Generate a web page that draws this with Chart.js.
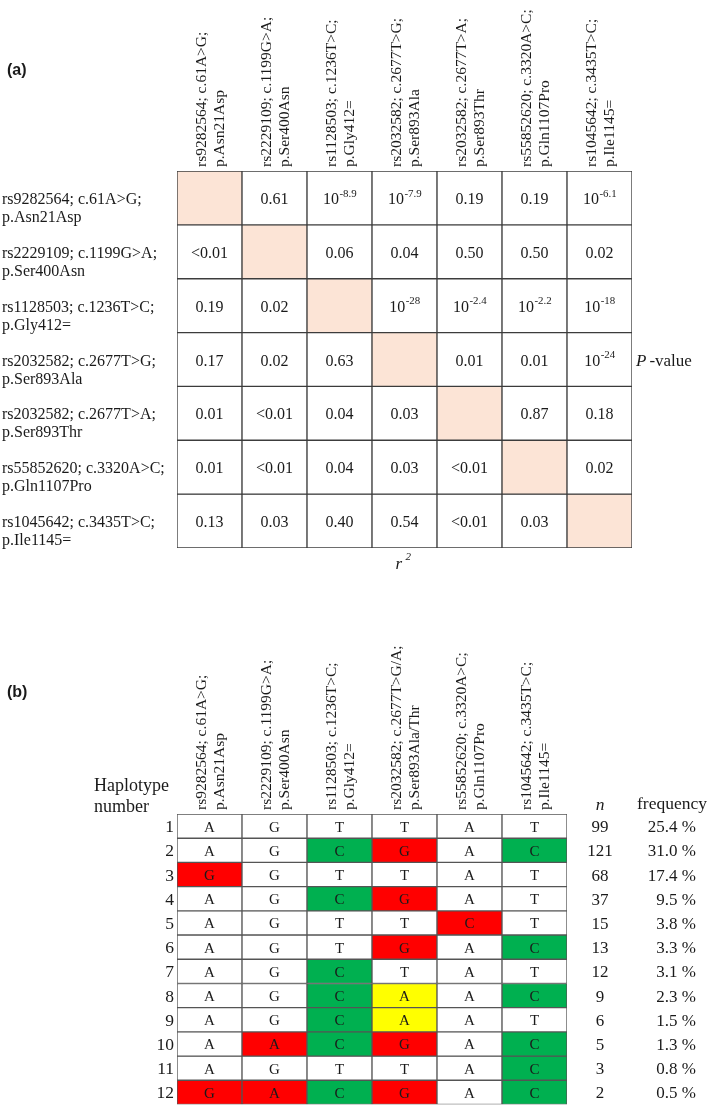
<!DOCTYPE html>
<html>
<head>
<meta charset="utf-8">
<script src="https://cdn.jsdelivr.net/npm/chart.js@4.4.0/dist/chart.umd.min.js"></script>
<style>
  body { margin: 0; background: #fff; }
  canvas { display: block; }
</style>
</head>
<body>
<canvas id="ld" width="709" height="590"></canvas>
<canvas id="haplo" width="709" height="516"></canvas>
<script>
// ---- panel (a): pairwise LD, lower triangle r^2, upper triangle P-value
const snpIds = ['rs9282564', 'rs2229109', 'rs1128503', 'rs2032582', 'rs2032582', 'rs55852620', 'rs1045642'];
const cdna = ['c.61A>G', 'c.1199G>A', 'c.1236T>C', 'c.2677T>G', 'c.2677T>A', 'c.3320A>C', 'c.3435T>C'];
const protein = ['p.Asn21Asp', 'p.Ser400Asn', 'p.Gly412=', 'p.Ser893Ala', 'p.Ser893Thr', 'p.Gln1107Pro', 'p.Ile1145='];

// "10^x" means ten to the power x
const ldCells = [
  ['', '0.61', '10^-8.9', '10^-7.9', '0.19', '0.19', '10^-6.1'],
  ['<0.01', '', '0.06', '0.04', '0.50', '0.50', '0.02'],
  ['0.19', '0.02', '', '10^-28', '10^-2.4', '10^-2.2', '10^-18'],
  ['0.17', '0.02', '0.63', '', '0.01', '0.01', '10^-24'],
  ['0.01', '<0.01', '0.04', '0.03', '', '0.87', '0.18'],
  ['0.01', '<0.01', '0.04', '0.03', '<0.01', '', '0.02'],
  ['0.13', '0.03', '0.40', '0.54', '<0.01', '0.03', '']
];

// ---- panel (b): haplotypes
const hapSnps = [
  ['rs9282564; c.61A>G;', 'p.Asn21Asp'],
  ['rs2229109; c.1199G>A;', 'p.Ser400Asn'],
  ['rs1128503; c.1236T>C;', 'p.Gly412='],
  ['rs2032582; c.2677T>G/A;', 'p.Ser893Ala/Thr'],
  ['rs55852620; c.3320A>C;', 'p.Gln1107Pro'],
  ['rs1045642; c.3435T>C;', 'p.Ile1145=']
];
const haplotypes = [
  ['A', 'G', 'T', 'T', 'A', 'T'],
  ['A', 'G', 'C', 'G', 'A', 'C'],
  ['G', 'G', 'T', 'T', 'A', 'T'],
  ['A', 'G', 'C', 'G', 'A', 'T'],
  ['A', 'G', 'T', 'T', 'C', 'T'],
  ['A', 'G', 'T', 'G', 'A', 'C'],
  ['A', 'G', 'C', 'T', 'A', 'T'],
  ['A', 'G', 'C', 'A', 'A', 'C'],
  ['A', 'G', 'C', 'A', 'A', 'T'],
  ['A', 'A', 'C', 'G', 'A', 'C'],
  ['A', 'G', 'T', 'T', 'A', 'C'],
  ['G', 'A', 'C', 'G', 'A', 'C']
];
const hapCount = [99, 121, 68, 37, 15, 13, 12, 9, 6, 5, 3, 2];
const hapFreq = ['25.4', '31.0', '17.4', '9.5', '3.8', '3.3', '3.1', '2.3', '1.5', '1.3', '0.8', '0.5'];

const RED = '#ff0000', GREEN = '#00b050', YELLOW = '#ffff00';
const alleleColors = [{ G: RED }, { A: RED }, { C: GREEN }, { G: RED, A: YELLOW }, { C: RED }, { C: GREEN }];

const serif = '"Liberation Serif", "Times New Roman", serif';
const sans = '"Liberation Sans", Arial, sans-serif';
const ink = '#1a1a1a';

function drawValue(ctx, txt, x, y, size) {
  ctx.fillStyle = ink;
  if (txt.startsWith('10^')) {
    const exp = txt.slice(3);
    ctx.font = size + 'px ' + serif;
    const bw = ctx.measureText('10').width;
    ctx.font = (size * 0.68) + 'px ' + serif;
    const ew = ctx.measureText(exp).width;
    const x0 = x - (bw + ew) / 2;
    ctx.textAlign = 'left';
    ctx.font = size + 'px ' + serif;
    ctx.fillText('10', x0, y);
    ctx.font = (size * 0.68) + 'px ' + serif;
    ctx.fillText(exp, x0 + bw + 0.5, y - size * 0.45);
  } else {
    ctx.textAlign = 'center';
    ctx.font = size + 'px ' + serif;
    ctx.fillText(txt, x, y);
  }
}

function drawHeaders(ctx, xScale, lines, bottom) {
  ctx.save();
  ctx.fillStyle = ink;
  ctx.font = '15.5px ' + serif;
  ctx.textAlign = 'left';
  ctx.textBaseline = 'alphabetic';
  lines.forEach((pair, i) => {
    const cx = xScale.getPixelForValue(i);
    pair.forEach((t, k) => {
      ctx.save();
      ctx.translate(cx - 3.5 + k * 18, bottom);
      ctx.rotate(-Math.PI / 2);
      ctx.fillText(t, 0, 0);
      ctx.restore();
    });
  });
  ctx.restore();
}

// ---- chart (a)
const ldLabels = {
  id: 'ldLabels',
  afterDatasetsDraw(chart) {
    const { ctx, chartArea, scales: { x, y } } = chart;
    ctx.save();
    ctx.textBaseline = 'alphabetic';
    chart.data.datasets.forEach((ds, r) => {
      chart.getDatasetMeta(r).data.forEach((el, c) => {
        const p = el.getCenterPoint();
        if (ldCells[r][c]) drawValue(ctx, ldCells[r][c], p.x, p.y + 6, 16);
      });
    });
    // row labels
    ctx.font = '16px ' + serif;
    ctx.textAlign = 'left';
    ctx.fillStyle = ink;
    snpIds.forEach((id, r) => {
      const top = y.getPixelForValue(r);
      ctx.fillText(id + '; ' + cdna[r] + ';', 2, top + 33);
      ctx.fillText(protein[r], 2, top + 51);
    });
    drawHeaders(ctx, x, snpIds.map((id, i) => [id + '; ' + cdna[i] + ';', protein[i]]), chartArea.top - 4);
    // P-value and r^2
    const py = y.getPixelForValue(3.5) + 6;
    ctx.font = 'italic 17px ' + serif;
    ctx.fillText('P', chartArea.right + 4, py);
    const pw = ctx.measureText('P').width;
    ctx.font = '17px ' + serif;
    ctx.fillText('-value', chartArea.right + 4 + pw + 3, py);
    const rx = x.getPixelForValue(3) - 9;
    ctx.font = 'italic 17px ' + serif;
    ctx.fillText('r', rx, chartArea.bottom + 21);
    ctx.font = 'italic 11px ' + serif;
    ctx.fillText('2', rx + 10, chartArea.bottom + 12);
    ctx.font = 'bold 16px ' + sans;
    ctx.fillText('(a)', 7, 75);
    ctx.restore();
  }
};

new Chart(document.getElementById('ld'), {
  type: 'bar',
  data: {
    labels: snpIds.map((id, i) => id + ' ' + cdna[i]),
    datasets: ldCells.map((row, r) => ({
      label: snpIds[r] + ' ' + cdna[r],
      data: row.map(() => [r, r + 1]),
      backgroundColor: row.map((v, c) => (c === r ? '#fce4d6' : '#ffffff')),
      borderColor: '#3c3c3c',
      borderWidth: 1,
      borderSkipped: false,
      grouped: false,
      categoryPercentage: 1,
      barPercentage: 1
    }))
  },
  options: {
    responsive: false,
    animation: false,
    events: [],
    layout: { padding: { left: 177, right: 77, top: 171, bottom: 42 } },
    plugins: { legend: { display: false }, tooltip: { enabled: false } },
    scales: {
      x: { display: false },
      y: { type: 'linear', display: false, min: 0, max: 7, reverse: true }
    }
  },
  plugins: [ldLabels]
});

// ---- chart (b)
const hapLabels = {
  id: 'hapLabels',
  afterDatasetsDraw(chart) {
    const { ctx, chartArea, scales: { x, y } } = chart;
    ctx.save();
    ctx.textBaseline = 'alphabetic';
    chart.data.datasets.forEach((ds, r) => {
      chart.getDatasetMeta(r).data.forEach((el, c) => {
        const p = el.getCenterPoint();
        drawValue(ctx, haplotypes[r][c], p.x, p.y + 5.5, 15);
      });
    });
    const nx = chartArea.right + 33;
    const fx = chartArea.right + 129;
    haplotypes.forEach((h, r) => {
      const cy = y.getPixelForValue(r + 0.5) + 6;
      ctx.font = '17.5px ' + serif;
      ctx.textAlign = 'right';
      ctx.fillText(String(r + 1), chartArea.left - 3, cy);
      ctx.font = '17px ' + serif;
      ctx.textAlign = 'center';
      ctx.fillText(String(hapCount[r]), nx, cy);
      ctx.textAlign = 'right';
      ctx.fillText(hapFreq[r] + ' %', fx, cy);
    });
    drawHeaders(ctx, x, hapSnps, chartArea.top - 4);
    ctx.font = '18px ' + serif;
    ctx.textAlign = 'left';
    ctx.fillText('Haplotype', 94, chartArea.top - 23);
    ctx.fillText('number', 94, chartArea.top - 2.5);
    ctx.textAlign = 'center';
    ctx.font = 'italic 17.5px ' + serif;
    ctx.fillText('n', nx, chartArea.top - 4);
    ctx.font = '17.5px ' + serif;
    ctx.fillText('frequency', fx - 24, chartArea.top - 5);
    ctx.font = 'bold 16px ' + sans;
    ctx.textAlign = 'left';
    ctx.fillText('(b)', 7, 107);
    ctx.restore();
  }
};

new Chart(document.getElementById('haplo'), {
  type: 'bar',
  data: {
    labels: hapSnps.map(s => s[0]),
    datasets: haplotypes.map((row, r) => ({
      label: 'Haplotype ' + (r + 1),
      data: row.map(() => [r, r + 1]),
      backgroundColor: row.map((a, c) => alleleColors[c][a] || '#ffffff'),
      borderColor: '#555555',
      borderWidth: 1,
      borderSkipped: false,
      grouped: false,
      categoryPercentage: 1,
      barPercentage: 1
    }))
  },
  options: {
    responsive: false,
    animation: false,
    events: [],
    layout: { padding: { left: 177, right: 142, top: 224, bottom: 1.5 } },
    plugins: { legend: { display: false }, tooltip: { enabled: false } },
    scales: {
      x: { display: false },
      y: { type: 'linear', display: false, min: 0, max: 12, reverse: true }
    }
  },
  plugins: [hapLabels]
});
</script>
</body>
</html>
